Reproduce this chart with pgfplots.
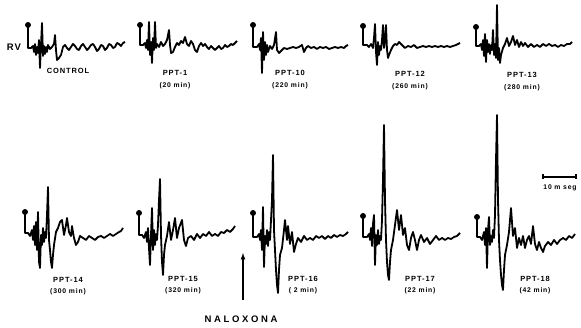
\documentclass[border=0pt]{standalone}
\usepackage{pgfplots}
\pgfplotsset{compat=1.18}
\usepackage{fontspec}
\setmainfont{Liberation Sans}
\newfontfamily\lab[LetterSpace=12]{Liberation Sans Bold}
\newfontfamily\labw[LetterSpace=28]{Liberation Sans Bold}
\begin{document}
\begin{tikzpicture}[
  lbl/.style={font=\lab\fontsize{7.5}{8}\selectfont, inner sep=0pt},
  sml/.style={font=\lab\fontsize{6.8}{7}\selectfont, inner sep=0pt}]
\begin{axis}[scale only axis, width=581pt, height=328pt,
  xmin=0, xmax=581, ymin=0, ymax=328, y dir=reverse,
  hide axis, clip=false,
  cycle list={{black,solid,mark=none}},
  every axis plot/.append style={line width=1.8pt, line join=round, black}]
\addplot[draw=none] coordinates {(0,0)(581,328)};
% ---- top row ----
% CONTROL
\addplot coordinates {(28,25)(28,48)(31,48)(33,46)(34,52)(35,44)(36,55)(37,47)(38,53)(39,40)(40,68)(41,45)(42,23)(43,56)(44,46)(45,54)(46,47)(47,52)(48,45)(50,49)(52,47)(54,44)(55,35)(56,50)(57,60)(59,58)(61,55)(63,47)(65,45)(67,48)(69,50)(71,47)(73,44)(75,46)(77,49)(79,50)(81,46)(83,44)(85,47)(87,50)(89,48)(91,45)(93,44)(95,47)(97,51)(99,49)(101,45)(103,46)(105,50)(107,48)(109,44)(111,45)(113,48)(115,47)(117,43)(119,44)(121,46)(123,43)(125,42)};
% PPT-1
\addplot coordinates {(140,25)(140,45)(143,45)(145,43)(146,48)(147,40)(148,50)(149,22)(150,55)(151,42)(152,63)(153,38)(154,50)(155,22)(156,48)(157,44)(159,47)(161,42)(163,46)(165,44)(167,40)(169,30)(170,45)(171,53)(173,52)(175,47)(177,43)(179,45)(181,41)(183,43)(185,37)(187,44)(189,46)(191,41)(193,44)(195,50)(197,52)(199,46)(201,43)(203,46)(205,44)(207,47)(209,49)(211,46)(213,48)(215,50)(217,48)(219,46)(221,49)(223,48)(225,45)(227,47)(229,46)(231,44)(233,45)(235,43)(237,41)};
% PPT-10
\addplot coordinates {(253,25)(253,47)(257,47)(259,44)(260,50)(261,38)(262,73)(263,32)(264,60)(265,42)(266,55)(267,45)(268,52)(270,46)(272,49)(274,45)(276,32)(277,50)(279,53)(281,51)(284,48)(287,49)(290,48)(293,47)(296,48)(299,47)(302,45)(304,52)(306,48)(308,46)(311,48)(314,47)(317,49)(320,47)(323,48)(326,47)(329,49)(332,48)(335,47)(338,48)(341,47)(344,48)(346,46)(348,45)};
% PPT-12
\addplot coordinates {(363,26)(363,45)(367,45)(369,47)(371,44)(373,48)(374,38)(375,24)(376,52)(377,65)(378,42)(379,55)(380,46)(381,50)(382,40)(383,25)(384,48)(385,40)(386,25)(387,50)(388,58)(389,55)(391,50)(393,46)(395,44)(397,45)(399,42)(401,44)(403,46)(405,48)(408,46)(411,47)(414,45)(417,48)(420,47)(423,46)(426,47)(429,46)(432,47)(435,46)(438,47)(441,46)(444,47)(447,46)(450,47)(453,46)(456,45)(460,43)};
% PPT-13
\addplot coordinates {(476,27)(476,46)(479,46)(481,44)(482,50)(483,40)(484,56)(485,34)(486,62)(487,40)(488,52)(489,44)(490,54)(491,45)(492,50)(493,30)(494,55)(495,44)(496,58)(497,5)(498,60)(499,48)(500,63)(501,55)(503,48)(505,44)(507,38)(509,46)(511,42)(513,36)(515,45)(517,40)(519,47)(521,42)(523,46)(525,43)(528,47)(531,44)(534,47)(537,45)(540,47)(543,44)(546,46)(549,44)(552,46)(555,45)(558,47)(561,45)(564,46)(567,44)(570,44)(572,42)};
% ---- bottom row ----
% PPT-14
\addplot coordinates {(25,212)(25,233)(28,233)(30,236)(32,230)(33,240)(34,226)(35,245)(36,222)(37,250)(38,212)(39,262)(40,268)(41,235)(42,245)(43,228)(44,242)(45,232)(46,238)(47,215)(48,187)(49,240)(50,250)(51,262)(52,268)(53,255)(54,245)(56,232)(58,228)(60,222)(62,220)(64,235)(66,225)(67,218)(69,232)(71,236)(72,226)(74,238)(76,245)(78,242)(80,236)(83,238)(86,240)(89,236)(92,238)(95,240)(98,237)(101,236)(104,238)(107,236)(110,234)(113,236)(116,234)(119,232)(121,231)(123,228)};
% PPT-15
\addplot coordinates {(139,213)(139,235)(142,235)(144,238)(146,232)(147,242)(148,228)(149,248)(150,265)(151,235)(152,208)(153,250)(154,230)(155,245)(156,234)(157,240)(158,225)(159,200)(160,179)(161,235)(162,262)(163,275)(164,255)(165,245)(167,236)(169,222)(171,240)(173,230)(175,218)(177,238)(179,228)(182,220)(184,240)(186,246)(188,238)(191,236)(194,240)(197,234)(200,238)(203,234)(206,236)(209,232)(212,236)(215,234)(218,236)(221,232)(224,233)(227,230)(230,232)(233,229)(235,226)};
% PPT-16
\addplot coordinates {(253,213)(253,237)(257,237)(259,234)(260,240)(261,230)(262,250)(263,207)(264,267)(265,236)(266,244)(267,230)(268,246)(269,232)(270,240)(271,220)(272,200)(273,155)(274,230)(275,250)(276,270)(277,285)(278,293)(279,270)(280,255)(282,248)(284,230)(285,220)(287,240)(288,226)(290,244)(292,232)(294,252)(296,244)(298,238)(301,242)(304,236)(307,240)(310,238)(313,240)(316,236)(319,238)(322,236)(325,239)(328,236)(331,238)(334,235)(337,237)(340,235)(343,236)(346,234)(348,232)};
% PPT-17
\addplot coordinates {(363,216)(363,237)(367,237)(369,234)(370,240)(371,228)(372,246)(373,224)(374,215)(375,265)(376,235)(377,245)(378,230)(379,244)(380,236)(381,240)(382,220)(383,180)(384,125)(385,200)(386,240)(387,262)(388,275)(389,280)(390,262)(391,250)(393,240)(395,225)(397,210)(399,230)(401,215)(403,235)(405,228)(407,245)(409,250)(411,238)(413,232)(415,240)(417,250)(419,240)(421,235)(424,242)(427,238)(430,244)(433,240)(436,236)(439,240)(442,238)(445,240)(448,238)(451,239)(454,237)(457,236)(460,233)};
% PPT-18
\addplot coordinates {(477,217)(477,237)(480,237)(482,240)(484,232)(485,245)(486,228)(487,268)(488,230)(489,217)(490,245)(491,236)(492,242)(493,230)(494,238)(495,215)(496,160)(497,115)(498,200)(499,240)(500,260)(501,275)(502,285)(503,290)(504,270)(505,255)(507,245)(509,232)(511,208)(513,236)(515,228)(517,248)(519,238)(521,245)(523,236)(525,248)(527,240)(529,236)(531,244)(533,226)(535,244)(537,250)(539,242)(541,248)(543,252)(545,246)(548,242)(551,245)(554,240)(557,244)(560,240)(563,238)(566,240)(569,236)(572,238)(575,234)};
% calibration dots
\addplot[black, only marks, mark=*, mark size=2pt] coordinates {(28,25)(140,25)(253,25)(363,26)(476,27)(25,212)(139,213)(253,213)(363,216)(477,217)};
% scale bar
\addplot[black, line width=1.2pt, mark=|, mark size=2.5pt, mark options={line width=1.2pt}] coordinates {(543,177)(576,177)};
% arrow
\addplot[black, -latex, line width=1.2pt, mark=none] coordinates {(243,300)(243,253)};
% labels
\node[font=\lab\fontsize{9.5}{10}\selectfont, inner sep=0pt] at (axis cs:14,47) {RV};
\node[lbl] at (axis cs:68,71) {CONTROL};
\node[lbl] at (axis cs:175,73) {PPT-1};
\node[sml] at (axis cs:175,86) {(20 min)};
\node[lbl] at (axis cs:290,73) {PPT-10};
\node[sml] at (axis cs:290,86) {(220 min)};
\node[lbl] at (axis cs:410,74) {PPT-12};
\node[sml] at (axis cs:410,87) {(260 min)};
\node[lbl] at (axis cs:522,75) {PPT-13};
\node[sml] at (axis cs:522,88) {(280 min)};
\node[lbl] at (axis cs:68,280) {PPT-14};
\node[sml] at (axis cs:68,292) {(300 min)};
\node[lbl] at (axis cs:183,279) {PPT-15};
\node[sml] at (axis cs:183,291) {(320 min)};
\node[lbl] at (axis cs:303,279) {PPT-16};
\node[sml] at (axis cs:303,291) {( 2 min)};
\node[lbl] at (axis cs:420,279) {PPT-17};
\node[sml] at (axis cs:420,291) {(22 min)};
\node[lbl] at (axis cs:535,279) {PPT-18};
\node[sml] at (axis cs:535,291) {(42 min)};
\node[sml] at (axis cs:560,188) {10 m seg};
\node[font=\labw\fontsize{9.5}{10}\selectfont, inner sep=0pt] at (axis cs:241,319) {NALOXONA};
\end{axis}
\end{tikzpicture}
\end{document}
